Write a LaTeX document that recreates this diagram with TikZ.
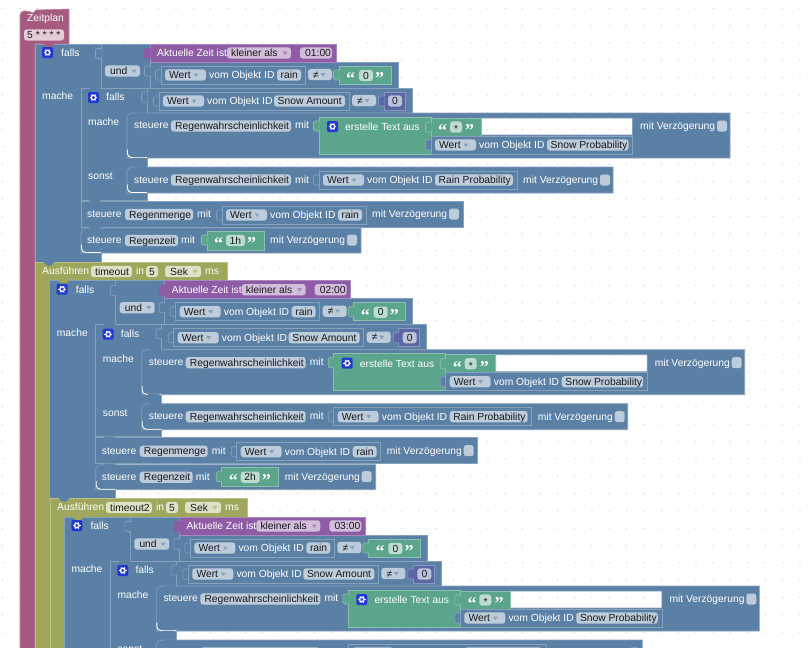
\documentclass[tikz,border=0pt]{standalone}
\usepackage{fontspec}
\setmainfont{Liberation Sans}
\newfontfamily\qfont{Liberation Serif}
\definecolor{cblue}{HTML}{5B80A5}
\definecolor{lblue}{HTML}{86A1BC}
\definecolor{fblue}{HTML}{BDCCDB}
\definecolor{cpurp}{HTML}{8E5BA5}
\definecolor{lpurp}{HTML}{AC86BE}
\definecolor{fpurp}{HTML}{D2BDDB}
\definecolor{cgreen}{HTML}{5BA58C}
\definecolor{lgreen}{HTML}{8CC0AE}
\definecolor{fgreen}{HTML}{BDDBD1}
\definecolor{cnum}{HTML}{5B67A5}
\definecolor{lnum}{HTML}{8C95C0}
\definecolor{fnum}{HTML}{BDC2DB}
\definecolor{cpink}{HTML}{A55B80}
\definecolor{lpink}{HTML}{C086A2}
\definecolor{fpink}{HTML}{E6CBD8}
\definecolor{colive}{HTML}{A0A65B}
\definecolor{lolive}{HTML}{BCC086}
\definecolor{folive}{HTML}{DFE1C6}
\definecolor{ctxt}{HTML}{1A1A1A}
\definecolor{cicon}{HTML}{2238D0}
\definecolor{cdot}{HTML}{D4D4D4}
\newcounter{nn}
\newif\ifwholeblock
\tikzset{
  wtxt/.style={inner sep=0pt,anchor=base west,text=white,font=\fontsize{10.3}{12}\selectfont},
  ktxt/.style={inner sep=0pt,anchor=base west,text=ctxt,font=\fontsize{10.3}{12}\selectfont},
  qtxt/.style={inner sep=0pt,anchor=base west,text=white,font=\qfont\bfseries\fontsize{18}{18}\selectfont},
  edge/.style={line width=0.6pt}
}
\newcommand{\Tw}[3]{\stepcounter{nn}\node[wtxt,name=n\arabic{nn}] at (#1,#2+3.7) {#3};}
\newcommand{\Tk}[3]{\stepcounter{nn}\node[ktxt,name=n\arabic{nn}] at (#1,#2+3.7) {#3};}
\newcommand{\Tq}[3]{\stepcounter{nn}\node[qtxt,name=n\arabic{nn}] at (#1,#2+9.5) {#3};}
\newcommand{\Bx}[6]{\filldraw[fill=#5,draw=#6,edge] (#1,#2) rectangle (#3,#4);}
\newcommand{\Fd}[4]{\fill[#4,rounded corners=3pt] (#1,#3-5.7) rectangle (#2,#3+5.7);}
\newcommand{\Tri}[3]{\fill[#3] (#1-2.5,#2-1.5) -- (#1+2.5,#2-1.5) -- (#1,#2+2) -- cycle;}
\newcommand{\Tb}[4]{\filldraw[fill=#3,draw=#4,edge,rounded corners=1.5pt] (#1+.5,#2-5) -- (#1-5.5,#2-5) -- (#1-5.5,#2+5) -- (#1+.5,#2+5);}
\newcommand{\Nt}[3]{\fill[#3] (#1+8,#2-.5) -- (#1+12,#2+3.5) -- (#1+16,#2+3.5) -- (#1+20,#2-.5) -- cycle;}
\newcommand{\Ic}[2]{\fill[cicon,rounded corners=2pt] (#1,#2) rectangle (#1+11,#2+11);
  \draw[white,line width=1.1pt] (#1+5.5,#2+5.5) circle (2.4);
  \foreach \a in {0,60,120}{\draw[white,line width=.7pt] (#1+5.5,#2+5.5) ++(\a:3.8) -- ++(\a:-7.6);}
  \fill[cicon] (#1+5.5,#2+5.5) circle (1.5);}
\newcommand{\Cb}[2]{\fill[fblue,rounded corners=2.5pt] (#1,#2-5.5) rectangle (#1+10,#2+5.5);}
% Wert block: left, centre y, right, field left, field text
\newcommand{\Wt}[5]{%
  \Bx{#1}{#2-9}{#3}{#2+9}{cblue}{lblue}
  \Fd{#1+4}{#1+45}{#2}{fblue}
  \Tk{#1+8}{#2}{Wert}
  \Tri{#1+35}{#2}{lblue}
  \Tw{#1+48}{#2}{vom Objekt ID}
  \Fd{#4}{#3-4}{#2}{fblue}
  \Tk{#4+3.5}{#2}{#5}}
\newcommand{\Stmt}[4]{\filldraw[fill=cblue,draw=lblue,edge] (#1,#4) [rounded corners=5pt] -- (#1,#2) [sharp corners] -- (#3,#2) -- (#3,#4) -- cycle;}
\newcommand{\Mv}[2]{\Tw{#1}{#2}{mit Verzögerung}\Cb{#1+77}{#2}}
\newcommand{\Corner}[3]{\draw[white,line width=.9pt,rounded corners=4pt] (#1,#2-8) -- (#1,#2) -- (#3,#2);}
\newcommand{\Group}[3]{%
  \Bx{35}{44}{101}{262}{cblue}{lblue}
  \Nt{35}{44}{#1}
  \Bx{150}{62}{398}{88}{cblue}{lblue}
  \Bx{101}{44}{150}{88}{cblue}{lblue}
  \Bx{150}{44}{336}{62}{cpurp}{lpurp}
  \Tb{150}{53.5}{cpurp}{cpurp}
  \Tb{101}{53.5}{cblue}{lblue}
  \Tb{150}{71}{cblue}{lblue}
  \Ic{42}{47}
  \Tw{61}{53}{falls}
  \Tw{42}{96}{mache}
  \Fd{105}{140}{71}{fblue}
  \Tk{110}{71}{und}
  \Tri{134}{71}{lblue}
  \Tw{157}{53}{Aktuelle Zeit ist}
  \Fd{227}{291}{53}{fpurp}
  \Tk{231}{53}{kleiner als}
  \Tri{285}{53}{lpurp}
  \Fd{300}{332}{53}{fpurp}
  \Tk{305}{53}{#2}
  \Tb{161}{75}{cblue}{lblue}
  \Wt{161}{75}{305}{277}{rain}
  \Fd{308}{332}{74.5}{fblue}
  \Tk{313}{74.5}{≠}
  \Tri{323}{74.5}{lblue}
  \Bx{339}{66}{391}{84}{cgreen}{lgreen}
  \Tb{339}{75}{cgreen}{lgreen}
  \Tq{346}{75}{“}
  \Fd{359}{373}{75.5}{fgreen}
  \Tk{363}{75.5}{0}
  \Tq{375}{75}{”}
  \Bx{81}{88}{147}{200}{cblue}{lblue}
  \Bx{147}{88}{412}{113}{cblue}{lblue}
  \Nt{81}{88}{cblue}
  \Ic{88}{92}
  \Tw{106}{97}{falls}
  \Tw{88}{122}{mache}
  \Tw{88}{176}{sonst}
  \Tb{147}{97}{cblue}{lblue}
  \Tb{159}{101}{cblue}{lblue}
  \Wt{159}{101}{349}{274}{Snow Amount}
  \Fd{352}{376}{100.5}{fblue}
  \Tk{357}{100.5}{≠}
  \Tri{367}{100.5}{lblue}
  \Bx{384}{92}{405}{110}{cnum}{lnum}
  \Tb{384}{101}{cnum}{lnum}
  \Fd{388}{402}{101}{fnum}
  \Tk{392}{101}{0}
  % steuere with Text block; the window between the text fields shows the sheet
  \filldraw[fill=cblue,draw=lblue,edge,even odd rule] (127,158) [rounded corners=5pt] -- (127,113) [sharp corners] -- (730,113) -- (730,158) -- cycle (481,118) rectangle (632.5,135);
  \Nt{127}{113}{cblue}
  \Corner{127.5}{157.5}{147}
  \Nt{125}{158}{cblue}
  \Tw{134}{125}{steuere}
  \Fd{171}{291}{126}{fblue}
  \Tk{175}{126}{Regenwahrscheinlichkeit}
  \Tw{295}{125}{mit}
  \Bx{319}{117}{431}{154}{cgreen}{lgreen}
  \Tb{319}{126}{cgreen}{lgreen}
  \Ic{327}{121}
  \Tw{345}{127}{erstelle Text aus}
  \Bx{431}{118}{481}{136}{cgreen}{lgreen}
  \Tb{431}{127}{cgreen}{lgreen}
  \Tq{438}{127}{“}
  \Fd{450}{462}{127}{fgreen}
  \Tk{454}{129}{*}
  \Tq{465}{127}{”}
  \Tb{431}{145}{cblue}{lblue}
  \Wt{431}{145}{632.5}{547}{Snow Probability}
  \Mv{640}{126}
  \Stmt{127}{167}{613}{193}
  \Nt{127}{167}{cblue}
  \ifwholeblock
  \Corner{127.5}{192.5}{147}
  \Tw{134}{179.5}{steuere}
  \Fd{171}{291}{180}{fblue}
  \Tk{175}{180}{Regenwahrscheinlichkeit}
  \Tw{295}{179.5}{mit}
  \Tb{319}{180}{cblue}{lblue}
  \Wt{319}{180}{517}{435}{Rain Probability}
  \Mv{523}{180}
  \Bx{81}{201}{463}{227}{cblue}{lblue}
  \Nt{81}{200.5}{cblue}
  \Tw{87}{214}{steuere}
  \Fd{125}{193}{214.5}{fblue}
  \Tk{129}{214.5}{Regenmenge}
  \Tw{197}{214}{mit}
  \Tb{222}{215}{cblue}{lblue}
  \Wt{222}{215}{366}{338}{rain}
  \Mv{372}{214}
  \Stmt{81}{228}{361}{253}
  \Nt{81}{227.5}{cblue}
  \Corner{81.5}{252.5}{101}
  \Tw{87}{240}{steuere}
  \Fd{125}{178}{240.5}{fblue}
  \Tk{129}{240.5}{Regenzeit}
  \Tw{181}{240}{mit}
  \Bx{207}{231}{264}{250}{cgreen}{lgreen}
  \Tb{207}{240}{cgreen}{lgreen}
  \Tq{214}{240}{“}
  \Fd{226}{245}{240.5}{fgreen}
  \Tk{229.5}{240.5}{#3}
  \Tq{247}{240}{”}
  \Mv{270}{240}
  \else
  % only the tops of the fields of this row are still on the sheet
  \Fd{171}{291}{180}{fblue}
  \Bx{319}{171}{517}{189}{cblue}{lblue}
  \Fd{323}{364}{180}{fblue}
  \Fd{435}{513}{180}{fblue}
  \Cb{600}{180}
  \fi
}
% x, y, name, extra width of the name field
\newcommand{\Ausf}[4]{%
  \filldraw[fill=colive,draw=lolive,edge] (#1,660) -- (#1,#2) -- (#1+192+#4,#2) -- (#1+192+#4,#2+19) -- (#1+15,#2+19) -- (#1+15,660) -- cycle;
  \Nt{#1}{#2}{cblue}
  \Tw{#1+7}{#2+9}{Ausführen}
  \Fd{#1+56}{#1+97+#4}{#2+9.5}{folive}
  \Tk{#1+60}{#2+9.5}{#3}
  \Tw{#1+101+#4}{#2+9}{in}
  \Fd{#1+111+#4}{#1+123+#4}{#2+9.5}{folive}
  \Tk{#1+114+#4}{#2+9.5}{5}
  \Fd{#1+130+#4}{#1+166+#4}{#2+9.5}{folive}
  \Tk{#1+135+#4}{#2+9.5}{Sek}
  \Tri{#1+160+#4}{#2+9.5}{lolive}
  \Tw{#1+170+#4}{#2+9}{ms}
}
\begin{document}
\begin{tikzpicture}[x=1pt,y=-1pt]
\useasboundingbox (0,0) rectangle (812,648);
\clip (0,0) rectangle (812,648);
\fill[white] (0,0) rectangle (812,648);
\foreach \i in {0,...,46}{\foreach \j in {0,...,37}{\fill[cdot] (2.7+17.33*\i,8.3+17.33*\j) circle (.75);}}
% Zeitplan hat
\filldraw[fill=cpink,draw=lpink,edge] (20,660) -- (20,17) [rounded corners=4pt] -- (20,11) -- (30,11) [sharp corners] -- (33,13) -- (36,10) -- (69,9) -- (69,44) -- (35,44) -- (35,660) -- cycle;
\Tw{27}{18}{Zeitplan}
\Fd{24}{64}{35}{fpink}
\Tk{27}{35}{5 * * * *}
\wholeblocktrue
\Group{cpink}{01:00}{1h}
\Ausf{35}{262}{timeout}{0}
\begin{scope}[shift={(14.7,236.7)}]
\Group{colive}{02:00}{2h}
\end{scope}
\Ausf{50}{498}{timeout2}{5}
\wholeblockfalse
\begin{scope}[shift={(29.3,473)}]
\Group{colive}{03:00}{}
\end{scope}
\end{tikzpicture}
\end{document}
